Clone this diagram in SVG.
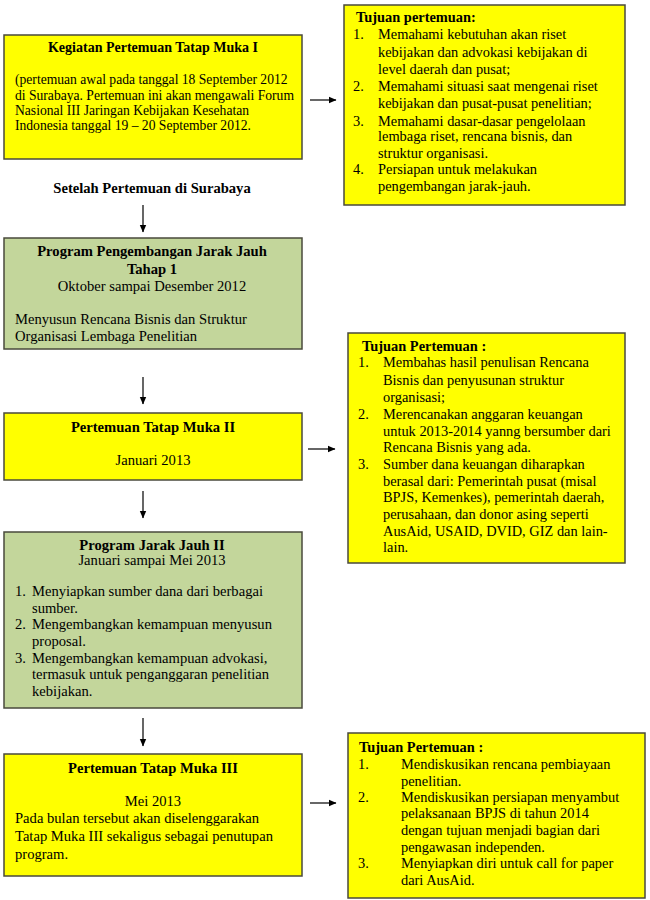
<svg xmlns="http://www.w3.org/2000/svg" width="650" height="900" viewBox="0 0 650 900">
<defs>
<marker id="ah" markerWidth="8" markerHeight="8" refX="7" refY="4" orient="auto" markerUnits="userSpaceOnUse">
<path d="M0,0.8 L7.5,4 L0,7.2 Z" fill="#000"/>
</marker>
</defs>
<style>
.y{fill:#FFFF00;stroke:#4a4a3c;stroke-width:1.5}
.g{fill:#C3D69B;stroke:#4a4a3c;stroke-width:1.5}
text{font-family:"Liberation Serif","Times New Roman",serif;fill:#000}
.s{font-size:14.4px}
.m{font-size:14.6px}
.t{font-size:14px}
.u{font-size:13.6px}
.b{font-weight:bold}
.c{text-anchor:middle}
.con line{stroke:#000;stroke-width:1.2;marker-end:url(#ah)}
</style>
<rect width="650" height="900" fill="#fff"/>

<g id="box1">
<rect class="y" x="4" y="35" width="298" height="124"/>
<text class="t b c" x="153" y="52">Kegiatan Pertemuan Tatap Muka I</text>
<text class="u" x="15" y="84">(pertemuan awal pada tanggal 18 September 2012</text>
<text class="u" x="15" y="100">di Surabaya. Pertemuan ini akan mengawali Forum</text>
<text class="u" x="15" y="115">Nasional III Jaringan Kebijakan Kesehatan</text>
<text class="u" x="15" y="130">Indonesia tanggal 19 – 20 September 2012.</text>
</g>

<g id="tujuan1">
<rect class="y" x="344" y="5" width="281" height="200"/>
<text class="s b" x="356" y="22">Tujuan pertemuan:</text>
<text class="s" x="353" y="39">1.</text>
<text class="s" x="378" y="39">Memahami kebutuhan akan riset</text>
<text class="s" x="378" y="57">kebijakan dan advokasi kebijakan di</text>
<text class="s" x="378" y="74">level daerah dan pusat;</text>
<text class="s" x="353" y="91">2.</text>
<text class="s" x="378" y="91">Memahami situasi saat mengenai riset</text>
<text class="s" x="378" y="108">kebijakan dan pusat-pusat penelitian;</text>
<text class="s" x="353" y="126">3.</text>
<text class="s" x="378" y="126">Memahami dasar-dasar pengelolaan</text>
<text class="s" x="378" y="141">lembaga riset, rencana bisnis, dan</text>
<text class="s" x="378" y="158">struktur organisasi.</text>
<text class="s" x="353" y="174">4.</text>
<text class="s" x="378" y="174">Persiapan untuk melakukan</text>
<text class="s" x="378" y="191">pengembangan jarak-jauh.</text>
</g>

<g id="label-surabaya">
<text class="m b c" x="152" y="193">Setelah Pertemuan di Surabaya</text>
</g>

<g id="green1">
<rect class="g" x="4" y="238" width="298" height="111"/>
<text class="m b c" x="152" y="256">Program Pengembangan Jarak Jauh</text>
<text class="m b c" x="152" y="274">Tahap 1</text>
<text class="m c" x="152" y="291">Oktober sampai  Desember 2012</text>
<text class="m" x="15" y="324">Menyusun Rencana Bisnis dan Struktur</text>
<text class="m" x="15" y="341">Organisasi Lembaga Penelitian</text>
</g>

<g id="box2">
<rect class="y" x="4" y="413" width="298" height="67"/>
<text class="m b c" x="153" y="432">Pertemuan Tatap Muka II</text>
<text class="m c" x="153" y="465">Januari 2013</text>
</g>

<g id="tujuan2">
<rect class="y" x="348" y="333" width="277" height="230"/>
<text class="s b" x="362" y="351">Tujuan Pertemuan :</text>
<text class="s" x="358" y="367">1.</text>
<text class="s" x="383" y="367">Membahas hasil penulisan Rencana</text>
<text class="s" x="383" y="385">Bisnis dan penyusunan struktur</text>
<text class="s" x="383" y="402">organisasi;</text>
<text class="s" x="358" y="419">2.</text>
<text class="s" x="383" y="419">Merencanakan anggaran keuangan</text>
<text class="s" x="383" y="436">untuk 2013-2014 yanng bersumber dari</text>
<text class="s" x="383" y="452">Rencana Bisnis yang ada.</text>
<text class="s" x="358" y="469">3.</text>
<text class="s" x="383" y="469">Sumber dana keuangan diharapkan</text>
<text class="s" x="383" y="486">berasal dari: Pemerintah pusat (misal</text>
<text class="s" x="383" y="502">BPJS, Kemenkes), pemerintah daerah,</text>
<text class="s" x="383" y="519">perusahaan, dan donor asing seperti</text>
<text class="s" x="383" y="536">AusAid, USAID, DVID, GIZ dan lain-</text>
<text class="s" x="383" y="552">lain.</text>
</g>

<g id="green2">
<rect class="g" x="4" y="532" width="298" height="176"/>
<text class="m b c" x="152" y="550">Program Jarak Jauh II</text>
<text class="m c" x="152" y="565">Januari sampai  Mei 2013</text>
<text class="m" x="15" y="596">1.</text>
<text class="m" x="32" y="596">Menyiapkan sumber dana dari berbagai</text>
<text class="m" x="32" y="613">sumber.</text>
<text class="m" x="15" y="629">2.</text>
<text class="m" x="32" y="629">Mengembangkan kemampuan menyusun</text>
<text class="m" x="32" y="646">proposal.</text>
<text class="m" x="15" y="663">3.</text>
<text class="m" x="32" y="663">Mengembangkan kemampuan advokasi,</text>
<text class="m" x="32" y="679">termasuk untuk penganggaran penelitian</text>
<text class="m" x="32" y="696">kebijakan.</text>
</g>

<g id="box3">
<rect class="y" x="4" y="754" width="298" height="122"/>
<text class="m b c" x="153" y="773">Pertemuan Tatap Muka III</text>
<text class="m c" x="153" y="806">Mei 2013</text>
<text class="m" x="15" y="823">Pada bulan tersebut akan diselenggarakan</text>
<text class="m" x="15" y="841">Tatap Muka III sekaligus sebagai penutupan</text>
<text class="m" x="15" y="859">program.</text>
</g>

<g id="tujuan3">
<rect class="y" x="348" y="733" width="297" height="165"/>
<text class="s b" x="359" y="752">Tujuan Pertemuan :</text>
<text class="s" x="358" y="769">1.</text>
<text class="s" x="401" y="769">Mendiskusikan rencana pembiayaan</text>
<text class="s" x="401" y="786">penelitian.</text>
<text class="s" x="358" y="802">2.</text>
<text class="s" x="401" y="802">Mendiskusikan persiapan menyambut</text>
<text class="s" x="401" y="818">pelaksanaan BPJS di tahun 2014</text>
<text class="s" x="401" y="835">dengan tujuan menjadi bagian dari</text>
<text class="s" x="401" y="852">pengawasan independen.</text>
<text class="s" x="358" y="868">3.</text>
<text class="s" x="401" y="868">Menyiapkan diri untuk call for paper</text>
<text class="s" x="401" y="885">dari AusAid.</text>
</g>

<g id="connectors" class="con">
<line x1="143" y1="205" x2="143" y2="232"/>
<line x1="143" y1="377" x2="143" y2="404"/>
<line x1="143" y1="491" x2="143" y2="518"/>
<line x1="143" y1="718" x2="143" y2="746"/>
<line x1="310" y1="100" x2="336" y2="100"/>
<line x1="308" y1="449" x2="335" y2="449"/>
<line x1="310" y1="803" x2="336" y2="803"/>
</g>
</svg>
